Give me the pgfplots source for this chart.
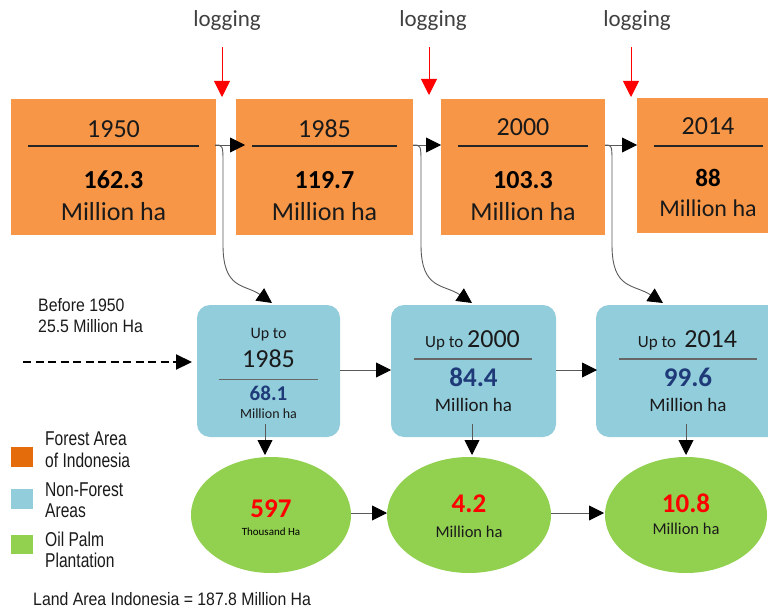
\documentclass[border=0pt]{standalone}
\usepackage{pgfplots}
\pgfplotsset{compat=1.18}
\usepackage{fontspec}
\usetikzlibrary{arrows.meta}
\setmainfont{Carlito}
\newfontfamily\calf{Carlito}
\newfontfamily\narrowA[FakeStretch=0.78]{Liberation Sans}
\newfontfamily\narrowB[FakeStretch=0.88]{Liberation Sans}
\definecolor{forest}{HTML}{F79646}
\definecolor{forestleg}{HTML}{E46C0A}
\definecolor{nonforest}{HTML}{92CDDC}
\definecolor{palm}{HTML}{92D050}
\definecolor{dblue}{HTML}{1F3A78}
\definecolor{txt}{HTML}{1A1A1A}
\definecolor{lg}{HTML}{404040}
\newcommand{\fs}[1]{\fontsize{#1bp}{#1bp}\selectfont}
\begin{document}
\begin{tikzpicture}
\begin{axis}[width=768bp, height=609bp, scale only axis,
  xmin=0, xmax=768, ymin=0, ymax=609, y dir=reverse,
  hide axis, clip=true]
% ---- forest area boxes
\addplot[fill=forest, draw=none] coordinates {(11,99) (216,99) (216,235) (11,235)} -- cycle;
\addplot[fill=forest, draw=none] coordinates {(236,99) (413,99) (413,235) (236,235)} -- cycle;
\addplot[fill=forest, draw=none] coordinates {(441,99) (605,99) (605,235) (441,235)} -- cycle;
\addplot[fill=forest, draw=none] coordinates {(637,98) (780,98) (780,233) (637,233)} -- cycle;
% separator lines
\addplot[black!85, line width=1.1pt] coordinates {(28,146) (199,146)};
\addplot[black!85, line width=1.1pt] coordinates {(252,146) (397,146)};
\addplot[black!85, line width=1.1pt] coordinates {(458,146) (588,146)};
\addplot[black!85, line width=1.1pt] coordinates {(654,146) (763,146)};
% ---- non-forest rounded boxes
\addplot[fill=nonforest, draw=none, rounded corners=13bp] coordinates {(197,305) (340,305) (340,437) (197,437)} -- cycle;
\addplot[fill=nonforest, draw=none, rounded corners=13bp] coordinates {(391,305) (556,305) (556,437) (391,437)} -- cycle;
\addplot[fill=nonforest, draw=none, rounded corners=13bp] coordinates {(596,305) (790,305) (790,437) (596,437)} -- cycle;
\addplot[black!60, line width=1pt] coordinates {(219,379) (318,379)};
\addplot[black!60, line width=1.2pt] coordinates {(414,359) (532,359)};
\addplot[black!60, line width=1.2pt] coordinates {(619,359) (757,359)};
% ---- oil palm ellipses
\fill[palm] (axis cs:271,515) ellipse [x radius=80, y radius=58];
\fill[palm] (axis cs:469,515) ellipse [x radius=82, y radius=58];
\fill[palm] (axis cs:686,515) ellipse [x radius=81, y radius=58];
% ---- legend squares
\addplot[fill=forestleg, draw=none] coordinates {(11,447) (33,447) (33,467) (11,467)} -- cycle;
\addplot[fill=nonforest, draw=none] coordinates {(11,489) (33,489) (33,509) (11,509)} -- cycle;
\addplot[fill=palm, draw=none] coordinates {(11,535) (33,535) (33,554) (11,554)} -- cycle;
% ---- arrows
\tikzset{harr/.style={black!65, line width=0.9pt, -{Triangle[length=15bp,width=15bp,color=black]}}}
\addplot[harr] coordinates {(215,145) (245,145)};
\addplot[harr] coordinates {(413,145) (441,145)};
\addplot[harr] coordinates {(605,145) (637,145)};
\addplot[harr] coordinates {(340,370) (391,370)};
\addplot[harr] coordinates {(556,370) (597,370)};
\addplot[harr] coordinates {(351,513) (387,513)};
\addplot[harr] coordinates {(551,513) (604,513)};
\addplot[harr] coordinates {(265,424) (265,455)};
\addplot[harr] coordinates {(472,424) (472,455)};
\addplot[harr] coordinates {(686,424) (686,455)};
\addplot[black, line width=2.2pt, dash pattern=on 8bp off 4.5bp, -{Triangle[length=16bp,width=15bp]}] coordinates {(23,362) (192,362)};
% red logging arrows
\addplot[red, line width=0.9pt, -{Triangle[length=16bp,width=16bp]}] coordinates {(222,47) (222,97)};
\addplot[red, line width=0.9pt, -{Triangle[length=16bp,width=16bp]}] coordinates {(429,47) (429,95)};
\addplot[red, line width=0.9pt, -{Triangle[length=16bp,width=16bp]}] coordinates {(631,47) (631,97)};
% curved connectors
\draw[harr] (axis cs:215,145) .. controls (axis cs:223,145) .. (axis cs:223,165) -- (axis cs:223,245) .. controls (axis cs:223,290) and (axis cs:245,284) .. (axis cs:272,303);
\draw[harr] (axis cs:413,145) .. controls (axis cs:421,145) .. (axis cs:421,165) -- (axis cs:421,245) .. controls (axis cs:421,290) and (axis cs:444,284) .. (axis cs:472,303);
\draw[harr] (axis cs:605,145) .. controls (axis cs:612,145) .. (axis cs:612,165) -- (axis cs:612,245) .. controls (axis cs:612,290) and (axis cs:634,284) .. (axis cs:663,303);
% ---- texts: logging
\node[anchor=base, text=lg, font=\calf\fs{23}] at (axis cs:227,27) {logging};
\node[anchor=base, text=lg, font=\calf\fs{23}] at (axis cs:433,27) {logging};
\node[anchor=base, text=lg, font=\calf\fs{23}] at (axis cs:637,27) {logging};
% forest boxes
\node[anchor=base, text=txt, font=\calf\fs{26}] at (axis cs:113.5,137) {1950};
\node[anchor=base, text=black, font=\calf\bfseries\fs{26}] at (axis cs:113.5,188) {162.3};
\node[anchor=base, text=txt, font=\calf\fs{26}] at (axis cs:113.5,220) {Million ha};
\node[anchor=base, text=txt, font=\calf\fs{26}] at (axis cs:324.5,137) {1985};
\node[anchor=base, text=black, font=\calf\bfseries\fs{26}] at (axis cs:324.5,188) {119.7};
\node[anchor=base, text=txt, font=\calf\fs{26}] at (axis cs:324.5,220) {Million ha};
\node[anchor=base, text=txt, font=\calf\fs{26}] at (axis cs:523,135) {2000};
\node[anchor=base, text=black, font=\calf\bfseries\fs{26}] at (axis cs:523,188) {103.3};
\node[anchor=base, text=txt, font=\calf\fs{26}] at (axis cs:523,220) {Million ha};
\node[anchor=base, text=txt, font=\calf\fs{26}] at (axis cs:708,134) {2014};
\node[anchor=base, text=black, font=\calf\bfseries\fs{25}] at (axis cs:708,186) {88};
\node[anchor=base, text=txt, font=\calf\fs{24}] at (axis cs:708,216) {Million ha};
% non-forest boxes
\node[anchor=base, text=txt, font=\calf\fs{16}] at (axis cs:268.5,338) {Up to};
\node[anchor=base, text=txt, font=\calf\fs{26}] at (axis cs:268.5,367) {1985};
\node[anchor=base, text=dblue, font=\calf\bfseries\fs{21}] at (axis cs:268.5,400) {68.1};
\node[anchor=base, text=txt, font=\calf\fs{14}] at (axis cs:268.5,418) {Million ha};
\node[anchor=base, text=txt, font=\calf\fs{26}] at (axis cs:472.5,347) {{\fs{17}Up to }2000};
\node[anchor=base, text=dblue, font=\calf\bfseries\fs{27}] at (axis cs:473.5,386) {84.4};
\node[anchor=base, text=txt, font=\calf\fs{19}] at (axis cs:473.5,411) {Million ha};
\node[anchor=base, text=txt, font=\calf\fs{26}] at (axis cs:687.5,347) {{\fs{17}Up to }\,2014};
\node[anchor=base, text=dblue, font=\calf\bfseries\fs{27}] at (axis cs:688,386) {99.6};
\node[anchor=base, text=txt, font=\calf\fs{19}] at (axis cs:688,411) {Million ha};
% ellipses
\node[anchor=base, text=red, font=\calf\bfseries\fs{27}] at (axis cs:271,517) {597};
\node[anchor=base, text=black, font=\calf\fs{11}] at (axis cs:271,535) {Thousand Ha};
\node[anchor=base, text=red, font=\calf\bfseries\fs{27}] at (axis cs:469,512) {4.2};
\node[anchor=base, text=txt, font=\calf\fs{16.5}] at (axis cs:469,537) {Million ha};
\node[anchor=base, text=red, font=\calf\bfseries\fs{27}] at (axis cs:686,512) {10.8};
\node[anchor=base, text=txt, font=\calf\fs{16.5}] at (axis cs:686,534) {Million ha};
% left texts
\node[anchor=base west, inner sep=0pt, text=txt, font=\narrowB\fs{18}] at (axis cs:38,311) {Before 1950};
\node[anchor=base west, inner sep=0pt, text=txt, font=\narrowB\fs{18}] at (axis cs:38,332) {25.5 Million Ha};
\node[anchor=base west, inner sep=0pt, text=txt, font=\narrowA\fs{20}] at (axis cs:45,445) {Forest Area};
\node[anchor=base west, inner sep=0pt, text=txt, font=\narrowA\fs{20}] at (axis cs:45,467) {of Indonesia};
\node[anchor=base west, inner sep=0pt, text=txt, font=\narrowA\fs{20}] at (axis cs:45,496) {Non-Forest};
\node[anchor=base west, inner sep=0pt, text=txt, font=\narrowA\fs{20}] at (axis cs:45,517) {Areas};
\node[anchor=base west, inner sep=0pt, text=txt, font=\narrowA\fs{20}] at (axis cs:45,546) {Oil Palm};
\node[anchor=base west, inner sep=0pt, text=txt, font=\narrowA\fs{20}] at (axis cs:45,567) {Plantation};
\node[anchor=base west, inner sep=0pt, text=txt, font=\narrowB\fs{18}] at (axis cs:33,605) {Land Area Indonesia = 187.8 Million Ha};
\end{axis}
\pgfresetboundingbox
\path[use as bounding box] (current axis.south west) rectangle (current axis.north east);
\end{tikzpicture}
\end{document}
